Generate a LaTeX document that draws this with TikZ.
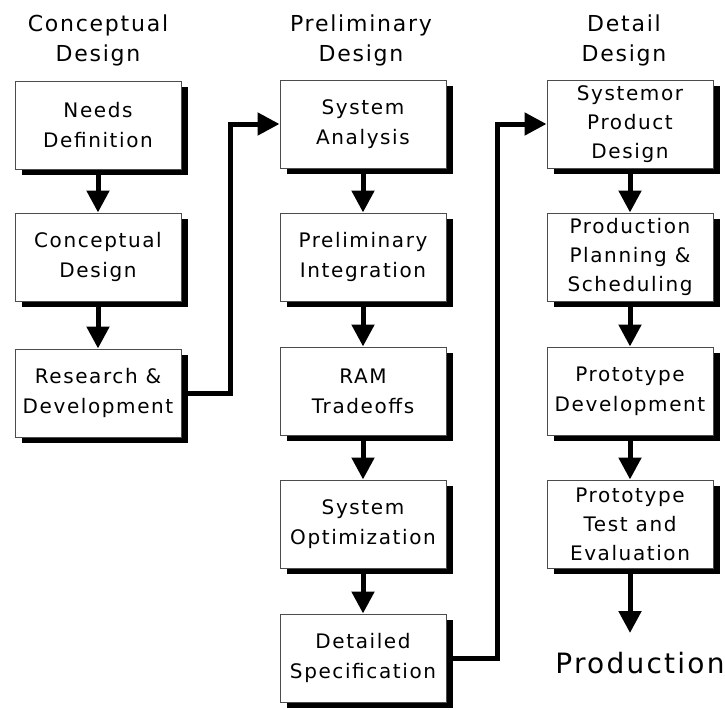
\documentclass[tikz,border=0pt]{standalone}
\usepackage{fontspec}
\setmainfont{DejaVu Sans}[LetterSpace=8]
\usetikzlibrary{arrows.meta,positioning,shadows}

\begin{document}
\begin{tikzpicture}[
    x=1pt, y=-1pt,
    stage/.style={
        rectangle, draw=gray!60!black, line width=1pt, fill=white,
        minimum width=166pt, minimum height=88pt, align=center, inner sep=2pt,
        font=\fontsize{20}{30}\selectfont,
        drop shadow={opacity=1, fill=black, shadow xshift=7pt, shadow yshift=-6pt}
    },
    phaseTitle/.style={align=center, font=\fontsize{22}{30}\selectfont},
    flow/.style={-{Triangle[length=22pt, width=22pt]}, line width=5pt}
]
\useasboundingbox (0,0) rectangle (725,709);

% Phase titles
\node[phaseTitle] (ttlConcept) at (98,40) {Conceptual\\Design};
\node[phaseTitle] (ttlPrelim) at (361,40) {Preliminary\\Design};
\node[phaseTitle] (ttlDetail) at (624,40) {Detail\\Design};

% Conceptual design stages
\node[stage] (needs) at (98,125) {Needs\\Definition};
\node[stage] (concept) at (98,257) {Conceptual\\Design};
\node[stage] (rnd) at (98,393) {Research \&\\Development};

% Preliminary design stages
\node[stage] (sysAn) at (363,124) {System\\Analysis};
\node[stage] (prelimInt) at (363,257) {Preliminary\\Integration};
\node[stage] (ram) at (363,391) {RAM\\Tradeoffs};
\node[stage] (sysOpt) at (363,524) {System\\Optimization};
\node[stage] (detSpec) at (363,658) {Detailed\\Specification};

% Detail design stages
\node[stage, font=\fontsize{20}{29}\selectfont] (prodDes) at (630,124) {Systemor\\Product\\Design};
\node[stage, font=\fontsize{20}{29}\selectfont] (prodPlan) at (630,257) {Production\\Planning \&\\Scheduling};
\node[stage] (protoDev) at (630,391) {Prototype\\Development};
\node[stage, font=\fontsize{20}{29}\selectfont] (protoTest) at (630,524) {Prototype\\Test and\\Evaluation};

% Outcome
\node[font=\fontsize{28}{30}\selectfont, anchor=north, inner xsep=0pt, inner ysep=19pt] (prodn) at (640,633) {Production};

% Flow within each phase
\draw[flow] (needs) -- (concept);
\draw[flow] (concept) -- (rnd);
\draw[flow] (sysAn) -- (prelimInt);
\draw[flow] (prelimInt) -- (ram);
\draw[flow] (ram) -- (sysOpt);
\draw[flow] (sysOpt) -- (detSpec);
\draw[flow] (prodDes) -- (prodPlan);
\draw[flow] (prodPlan) -- (protoDev);
\draw[flow] (protoDev) -- (protoTest);
\draw[flow] (protoTest.south) -- (protoTest.south |- prodn.north);

% Hand-over between phases
\draw[flow] (rnd.east) -- ++(49,0) |- (sysAn.west);
\draw[flow] (detSpec.east) -- ++(51,0) |- (prodDes.west);

\end{tikzpicture}
\end{document}
